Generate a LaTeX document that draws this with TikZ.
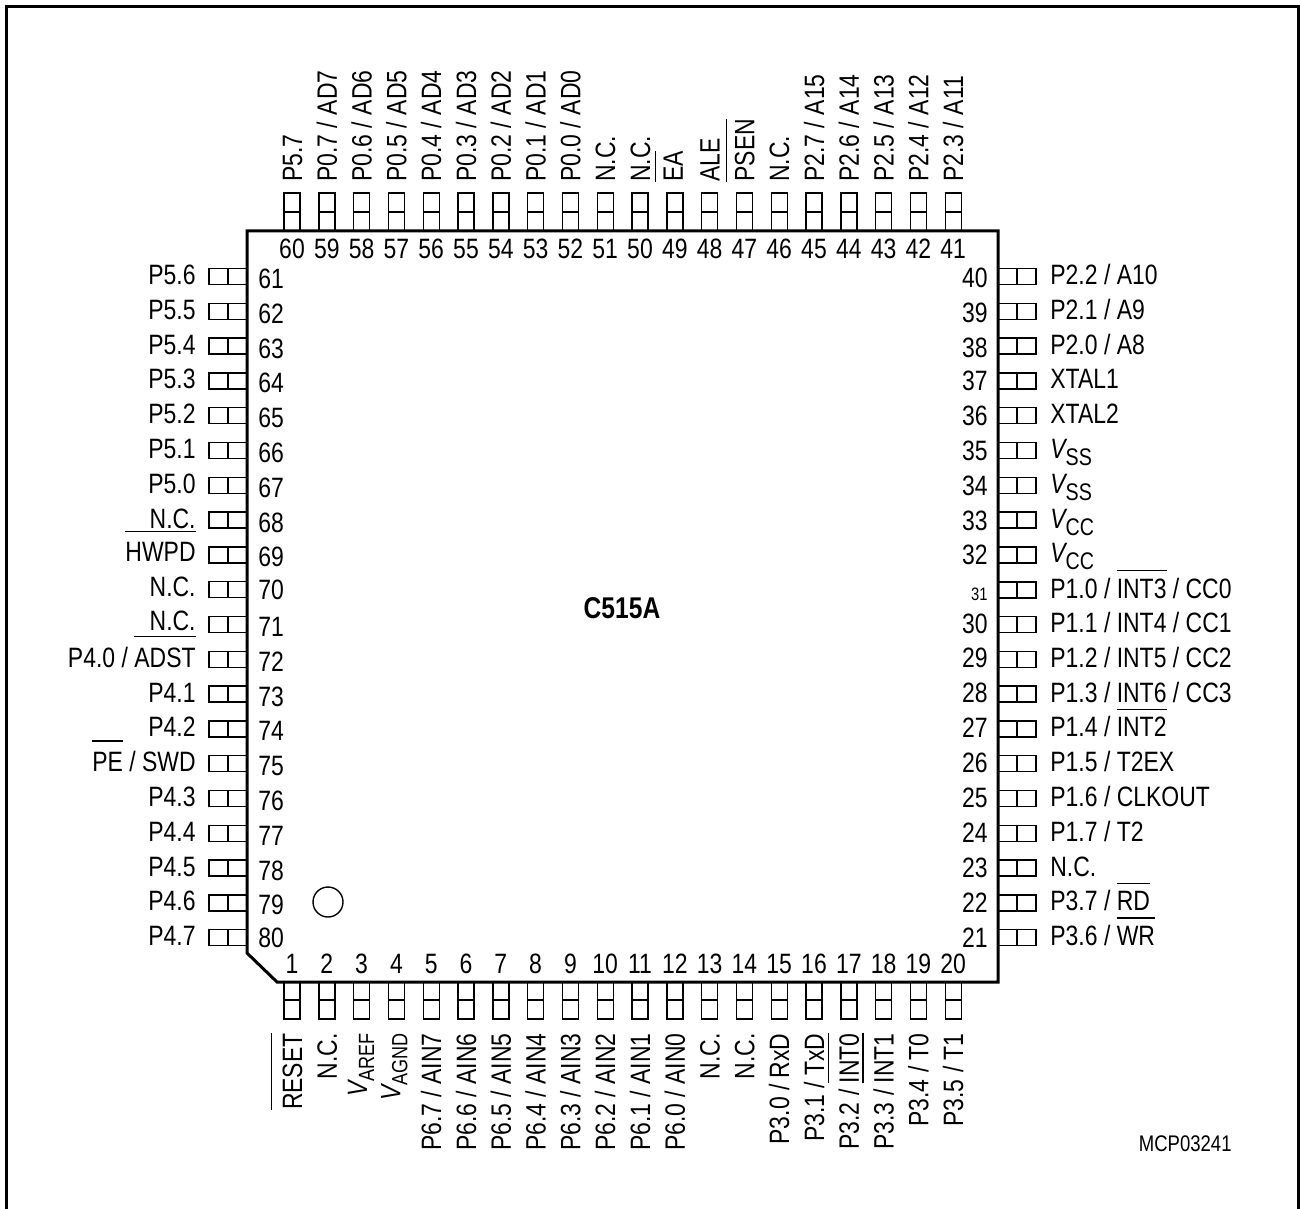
\documentclass[tikz,border=0pt]{standalone}
\usepackage{fontspec}
\setmainfont[FakeStretch=0.82]{Liberation Sans}
\newcommand\ol[2][13.5pt]{\setbox0\hbox{#2}\rlap{\rule[#1]{\wd0}{0.6pt}}\box0\relax}
\newcommand\vsub[2][12]{{\itshape V}\raisebox{-3.5pt}{\fontsize{#1}{#1}\selectfont #2}}
\tikzset{
    chip/.style={line width=1.5pt, line join=miter},
    pin/.style={line width=0.7pt},
    lbl/.style={inner sep=0pt, font=\fontsize{14}{16}\selectfont},
    upl/.style={lbl, rotate=90}
}
\begin{document}
\begin{tikzpicture}[x=0.5pt,y=-0.5pt]
    \useasboundingbox (0,0) rectangle (1300,1209);
    % Frame, open at the bottom
    \draw[chip] (6,1209) -- (6,7) -- (1298,7) -- (1298,1209);

    % Top pins
    \foreach \n/\dx/\t in {60/10/P5.7, 59/10/{P0.7 / AD7}, 58/10/{P0.6 / AD6}, 57/10/{P0.5 / AD5}, 56/10/{P0.4 / AD4},
        55/10/{P0.3 / AD3}, 54/10/{P0.2 / AD2}, 53/10/{P0.1 / AD1}, 52/10/{P0.0 / AD0}, 51/10/N.C., 50/10/N.C.,
        49/8/\ol{EA}, 48/10/ALE, 47/10/\ol{PSEN}, 46/10/N.C., 45/10/{P2.7 / A15}, 44/10/{P2.6 / A14},
        43/10/{P2.5 / A13}, 42/10/{P2.4 / A12}, 41/10/{P2.3 / A11}}
    {
        \pgfmathsetmacro\x{292+34.8*(60-\n)}
        \draw[pin] (\x-8,193) rectangle (\x+8,231) (\x-8,212) -- (\x+8,212);
        \node[lbl, anchor=base] (num\n) at (\x,258) {\n};
        \node[upl, anchor=base west] (lbl\n) at (\x+\dx,182) {\t};
    }

    % Bottom pins
    \foreach \n/\dx/\t in {1/10/\ol[15pt]{RESET}, 2/10/N.C., 3/5.5/\vsub[11]{AREF}, 4/4/\vsub[11]{AGND},
        5/10/{P6.7 / AIN7}, 6/10/{P6.6 / AIN6}, 7/10/{P6.5 / AIN5}, 8/10/{P6.4 / AIN4}, 9/10/{P6.3 / AIN3},
        10/10/{P6.2 / AIN2}, 11/10/{P6.1 / AIN1}, 12/10/{P6.0 / AIN0}, 13/10/N.C., 14/10/N.C., 15/10/{P3.0 / RxD},
        16/10/{P3.1 / TxD}, 17/10/{P3.2 / \ol[15pt]{INT0}}, 18/10/{P3.3 / \ol[15pt]{INT1}}, 19/10/{P3.4 / T0}, 20/10/{P3.5 / T1}}
    {
        \pgfmathsetmacro\x{292+34.8*(\n-1)}
        \draw[pin] (\x-8,982) rectangle (\x+8,1019) (\x-8,1000) -- (\x+8,1000);
        \node[lbl, anchor=base] (num\n) at (\x,973) {\n};
        \node[upl, anchor=base east] (lbl\n) at (\x+\dx,1033) {\t};
    }

    % Left pins
    \foreach \n/\dy/\ny/\t in {61/8/12/P5.6, 62/8/12/P5.5, 63/8/12/P5.4, 64/8/12/P5.3, 65/8/12/P5.2, 66/8/12/P5.1,
        67/8/12/P5.0, 68/8/12/N.C., 69/7/12/\ol[15pt]{HWPD}, 70/7/10/N.C., 71/6/12/N.C.,
        72/8/12/{P4.0 / \ol[15pt]{ADST}}, 73/8/12/P4.1, 74/8/12/P4.2, 75/8/12/{\ol[15pt]{PE} / SWD}, 76/8/12/P4.3,
        77/8/12/P4.4, 78/8/12/P4.5, 79/8/12/P4.6, 80/8/10/P4.7}
    {
        \pgfmathsetmacro\y{276.4+34.8*(\n-61)}
        \draw[pin] (209,\y-8) rectangle (247,\y+8) (228,\y-8) -- (228,\y+8);
        \node[lbl, anchor=base west] (num\n) at (258,\y+\ny) {\n};
        \node[lbl, anchor=base east] (lbl\n) at (196,\y+\dy) {\t};
    }

    % Right pins
    \foreach \n/\ny/\t in {40/11.5/{P2.2 / A10}, 39/11.5/{P2.1 / A9}, 38/11/{P2.0 / A8}, 37/10/XTAL1, 36/10/XTAL2,
        35/10/\vsub{SS}, 34/10/\vsub{SS}, 33/10/\vsub{CC}, 32/10/\vsub{CC},
        30/8.6/{P1.1 / INT4 / CC1}, 29/8.6/{P1.2 / INT5 / CC2}, 28/8.6/{P1.3 / INT6 / CC3}, 27/8.6/{P1.4 / \ol{INT2}},
        26/9/{P1.5 / T2EX}, 25/9/{P1.6 / CLKOUT}, 24/9/{P1.7 / T2}, 23/9/N.C., 22/9.5/{P3.7 / \ol{RD}}, 21/10/{P3.6 / \ol{WR}}}
    {
        \pgfmathsetmacro\y{276.4+34.8*(40-\n)}
        \draw[pin] (998,\y-8) rectangle (1036,\y+8) (1017,\y-8) -- (1017,\y+8);
        \node[lbl, anchor=base east] (num\n) at (988,\y+\ny) {\n};
        \node[lbl, anchor=base west] (lbl\n) at (1050,\y+8) {\t};
    }
    % Pin 31 has the small number
    \draw[pin] (998,582) rectangle (1036,598) (1017,582) -- (1017,598);
    \node[lbl, font=\fontsize{9}{10}\selectfont, anchor=base east] (num31) at (988,600) {31};
    \node[lbl, anchor=base west] (lbl31) at (1050,598) {P1.0 / \ol{INT3} / CC0};

    % Package outline with the cut corner
    \draw[chip] (247,231) -- (998,231) -- (998,982) -- (277,982) -- (247,953) -- cycle;
    \draw[pin] (328,902) circle (15);

    \node[lbl, font=\fontsize{15}{17}\selectfont\bfseries, anchor=base] (chipname) at (622,618) {C515A};
    \node[lbl, font=\fontsize{11.3}{13}\selectfont, anchor=base east] (figcode) at (1232,1151) {MCP03241};
\end{tikzpicture}
\end{document}
